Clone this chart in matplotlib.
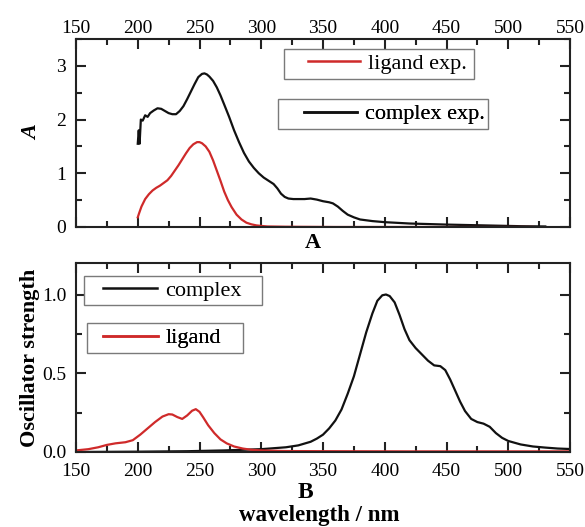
import matplotlib
matplotlib.use("Agg")
import matplotlib.pyplot as plt
from matplotlib.ticker import MultipleLocator
from matplotlib.lines import Line2D
from matplotlib.patches import Rectangle

plt.rcParams['font.family'] = ['Liberation Serif', 'DejaVu Serif']

# Panel A: experimental absorbance
complex_exp_wl = [200, 200.8, 201.5, 202.5, 204, 206, 208, 210, 213, 216, 219, 222, 225, 228, 231,
                  234, 237, 240, 243, 246, 249, 252, 254, 256, 258, 261, 264, 267, 270, 274,
                  278, 282, 286, 290, 294, 298, 302, 306, 310, 313, 316, 319, 322, 326, 330,
                  335, 340, 345, 350, 355, 358, 362, 366, 370, 375, 380, 390, 400, 420, 450,
                  480, 510, 530]
complex_exp_A = [1.55, 1.80, 1.55, 2.00, 1.98, 2.08, 2.05, 2.12, 2.17, 2.21, 2.20, 2.16, 2.12, 2.10, 2.10,
                 2.16, 2.25, 2.38, 2.52, 2.66, 2.79, 2.85, 2.86, 2.84, 2.80, 2.72, 2.60, 2.45, 2.28, 2.05,
                 1.80, 1.58, 1.38, 1.22, 1.10, 1.00, 0.92, 0.86, 0.80, 0.72, 0.62, 0.56, 0.53, 0.52, 0.52,
                 0.52, 0.53, 0.51, 0.48, 0.46, 0.44, 0.38, 0.30, 0.23, 0.18, 0.14, 0.11, 0.09, 0.065, 0.045,
                 0.03, 0.015, 0.01]

ligand_exp_wl = [200, 201, 203, 206, 209, 212, 215, 218, 221, 224, 227, 230, 233, 236, 239,
                 242, 245, 248, 250, 252, 255, 258, 261, 264, 267, 270, 273, 276, 280, 284,
                 288, 292, 296, 300, 305, 320, 360, 420, 480, 520]
ligand_exp_A = [0.18, 0.25, 0.38, 0.52, 0.61, 0.68, 0.73, 0.77, 0.82, 0.87, 0.95, 1.05, 1.15, 1.26, 1.37,
                1.47, 1.54, 1.58, 1.58, 1.56, 1.50, 1.40, 1.24, 1.05, 0.86, 0.66, 0.50, 0.37, 0.23, 0.14,
                0.08, 0.05, 0.03, 0.02, 0.01, 0.005, 0.0, 0.0, 0.0, 0.0]

# Panel B: calculated oscillator strength
complex_calc_wl = [150, 200, 240, 270, 300, 320, 330, 340, 345, 350, 355, 360, 365, 370, 375,
                   380, 385, 390, 394, 398, 401, 404, 408, 412, 416, 420, 425, 430, 435, 440,
                   445, 449, 453, 457, 461, 465, 470, 475, 480, 485, 490, 495, 500, 510, 520,
                   530, 540, 550]
complex_calc_f = [0.0, 0.002, 0.005, 0.01, 0.018, 0.03, 0.042, 0.065, 0.085, 0.11, 0.15, 0.2, 0.27, 0.37, 0.48,
                  0.62, 0.76, 0.88, 0.96, 0.995, 1.0, 0.99, 0.95, 0.87, 0.78, 0.71, 0.66, 0.62, 0.58, 0.55,
                  0.545, 0.52, 0.46, 0.39, 0.32, 0.26, 0.21, 0.19, 0.18, 0.16, 0.12, 0.09, 0.07, 0.048, 0.035,
                  0.028, 0.022, 0.019]

ligand_calc_wl = [150, 160, 168, 175, 182, 190, 196, 202, 208, 214, 220, 225, 228, 232, 236,
                  240, 244, 247, 250, 253, 257, 262, 267, 272, 278, 285, 292, 300, 320, 360,
                  420, 480, 550]
ligand_calc_f = [0.01, 0.018, 0.03, 0.045, 0.055, 0.062, 0.075, 0.11, 0.15, 0.19, 0.225, 0.24, 0.238, 0.222, 0.21,
                 0.232, 0.262, 0.272, 0.255, 0.22, 0.17, 0.12, 0.08, 0.055, 0.035, 0.022, 0.014, 0.01, 0.006, 0.005,
                 0.004, 0.004, 0.004]

x_ticks = [150, 200, 250, 300, 350, 400, 450, 500, 550]

RED = '#cf2a2a'
BLACK = '#111111'

W, H = 585, 527
fig = plt.figure(figsize=(W/100, H/100), dpi=100)

def fx(px):
    return px / W

def fy(py):
    return 1 - py / H

L, R = 76, 570
axA = fig.add_axes([fx(L), fy(227), (R-L)/W, (227-39)/H])
axB = fig.add_axes([fx(L), fy(452), (R-L)/W, (452-263)/H])

def style(ax):
    for s in ax.spines.values():
        s.set_linewidth(1.5)
        s.set_color('#222222')
    ax.set_xlim(150, 550)
    ax.set_xticks(x_ticks)
    ax.xaxis.set_minor_locator(MultipleLocator(25))
    ax.tick_params(which='both', direction='in', top=True, bottom=True, left=True, right=True,
                   width=1.5, color='#222222', labelsize=14)
    ax.tick_params(which='major', length=7)
    ax.tick_params(which='minor', length=4)
    ax.tick_params(axis='y', pad=7)

# Panel A
axA.plot(complex_exp_wl, complex_exp_A, color=BLACK, lw=1.6)
axA.plot(ligand_exp_wl, ligand_exp_A, color=RED, lw=1.6)
style(axA)
axA.set_ylim(0, 3.5)
axA.yaxis.set_major_locator(MultipleLocator(1))
axA.yaxis.set_minor_locator(MultipleLocator(0.5))
axA.tick_params(axis='x', labeltop=True, labelbottom=False, pad=1.5)
axA.set_ylabel('A', fontsize=16, fontstyle='italic', fontweight='bold', labelpad=10)
fig.text(fx(313), fy(243), 'A', ha='center', va='center', fontsize=16, fontweight='bold')

# Panel B
axB.plot(complex_calc_wl, complex_calc_f, color=BLACK, lw=1.6)
axB.plot(ligand_calc_wl, ligand_calc_f, color=RED, lw=1.6)
style(axB)
axB.set_ylim(0, 1.2)
axB.yaxis.set_minor_locator(MultipleLocator(0.25))
axB.set_yticks([0, 0.5, 1.0])
axB.set_yticklabels(['0.0', '0.5', '1.0'])
axB.tick_params(axis='x', pad=8)
axB.set_ylabel('Oscillator strength', fontsize=16, fontweight='bold', labelpad=1.5)
fig.text(fx(305), fy(492), 'B', ha='center', va='center', fontsize=17, fontweight='bold')
fig.text(fx(319), fy(516), 'wavelength / nm', ha='center', va='center', fontsize=16.5, fontweight='bold')

# Legends: boxed single entries
def boxed_legend(ax, color, label, box, handle_x, handle_len):
    x0, y0, x1, y1 = box
    rect = Rectangle((fx(x0), fy(y1)), (x1-x0)/W, (y1-y0)/H, transform=fig.transFigure,
                     facecolor='white', edgecolor='#7a7a7a', lw=1.0, zorder=5, clip_on=False)
    ax.add_patch(rect)
    lg = ax.legend([Line2D([], [], color=color, lw=1.8)], [label], loc='center left',
                   bbox_to_anchor=(fx(handle_x), fy((y0+y1)/2)), bbox_transform=fig.transFigure,
                   frameon=False, fontsize=16, handlelength=handle_len/22.2, handletextpad=0.35,
                   borderpad=0, borderaxespad=0)
    lg.set_zorder(6)
    ax.add_artist(lg)

boxed_legend(axA, RED, 'ligand exp.', (284, 49, 474, 79), 308, 52)
boxed_legend(axA, BLACK, 'complex exp.', (278, 99, 488, 129), 304, 53)
boxed_legend(axB, BLACK, 'complex', (84, 276, 262, 305), 103, 54)
boxed_legend(axB, RED, 'ligand', (87, 323, 243, 353), 103, 55)

fig.savefig('out.png', dpi=100)
